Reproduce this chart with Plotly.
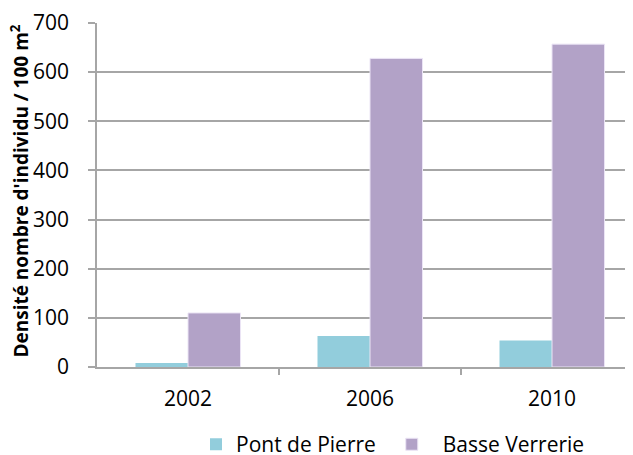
import plotly.graph_objs as go

years = ["2002", "2006", "2010"]
pont_de_pierre = [8, 63, 54]
basse_verrerie = [110, 628, 657]
y_ticks = [0, 100, 200, 300, 400, 500, 600, 700]
y_title = "<b>Densité nombre d'individu / 100 m<sup>2</sup></b>"

x_pos = list(range(len(years)))
font_family = "Open Sans, Noto Sans, sans-serif"
grid_grey = "#a6a6a6"

trace_pont = go.Bar(
    x=x_pos,
    y=pont_de_pierre,
    name="Pont de Pierre\u00a0\u00a0",
    marker=dict(color="#92cddc", line=dict(width=0)),
)
trace_basse = go.Bar(
    x=x_pos,
    y=basse_verrerie,
    name="\u00a0\u00a0Basse Verrerie",
    marker=dict(color="#b2a2c7", line=dict(color="rgba(235,228,245,1)", width=1)),
)

# page body keeps its default 8px margin, so the figure is drawn 8px in;
# the figure is a bit taller than the window so the legend never pushes margins
layout = go.Layout(
    width=625,
    height=465,
    paper_bgcolor="white",
    plot_bgcolor="white",
    font=dict(family=font_family, size=21, color="#000000"),
    margin=dict(l=89, r=0, t=15, b=106),
    barmode="group",
    bargap=0.423,
    bargroupgap=0,
    xaxis=dict(
        range=[-0.5, 2.445],
        tickvals=x_pos,
        ticktext=years,
        ticks="",
        ticklen=0,
        ticklabelstandoff=12,
        showgrid=False,
        showline=True,
        linecolor=grid_grey,
        linewidth=1.5,
        zeroline=False,
        automargin=False,
        tickfont=dict(size=21),
        minor=dict(tickvals=[0.5, 1.5], ticks="outside", ticklen=6,
                   tickcolor=grid_grey, tickwidth=1.5, showgrid=False),
    ),
    yaxis=dict(
        range=[0, 700],
        tickvals=y_ticks,
        ticks="outside",
        ticklen=7,
        tickcolor=grid_grey,
        tickwidth=1.5,
        ticklabelstandoff=15,
        showline=True,
        linecolor=grid_grey,
        linewidth=1.5,
        gridcolor=grid_grey,
        gridwidth=1.5,
        zeroline=False,
        automargin=False,
        tickfont=dict(size=21),
    ),
    annotations=[
        dict(
            text=y_title,
            textangle=-90,
            xref="paper",
            yref="paper",
            x=-0.1445,
            y=0.5116,
            xanchor="center",
            yanchor="middle",
            showarrow=False,
            font=dict(size=19),
        )
    ],
    legend=dict(
        orientation="h",
        x=0.1847,
        y=-0.166,
        xanchor="left",
        yanchor="top",
        font=dict(size=21),
        itemwidth=30,
        traceorder="normal",
    ),
    showlegend=True,
)

fig = go.Figure(data=[trace_pont, trace_basse], layout=layout)
fig.write_html("out.html")
